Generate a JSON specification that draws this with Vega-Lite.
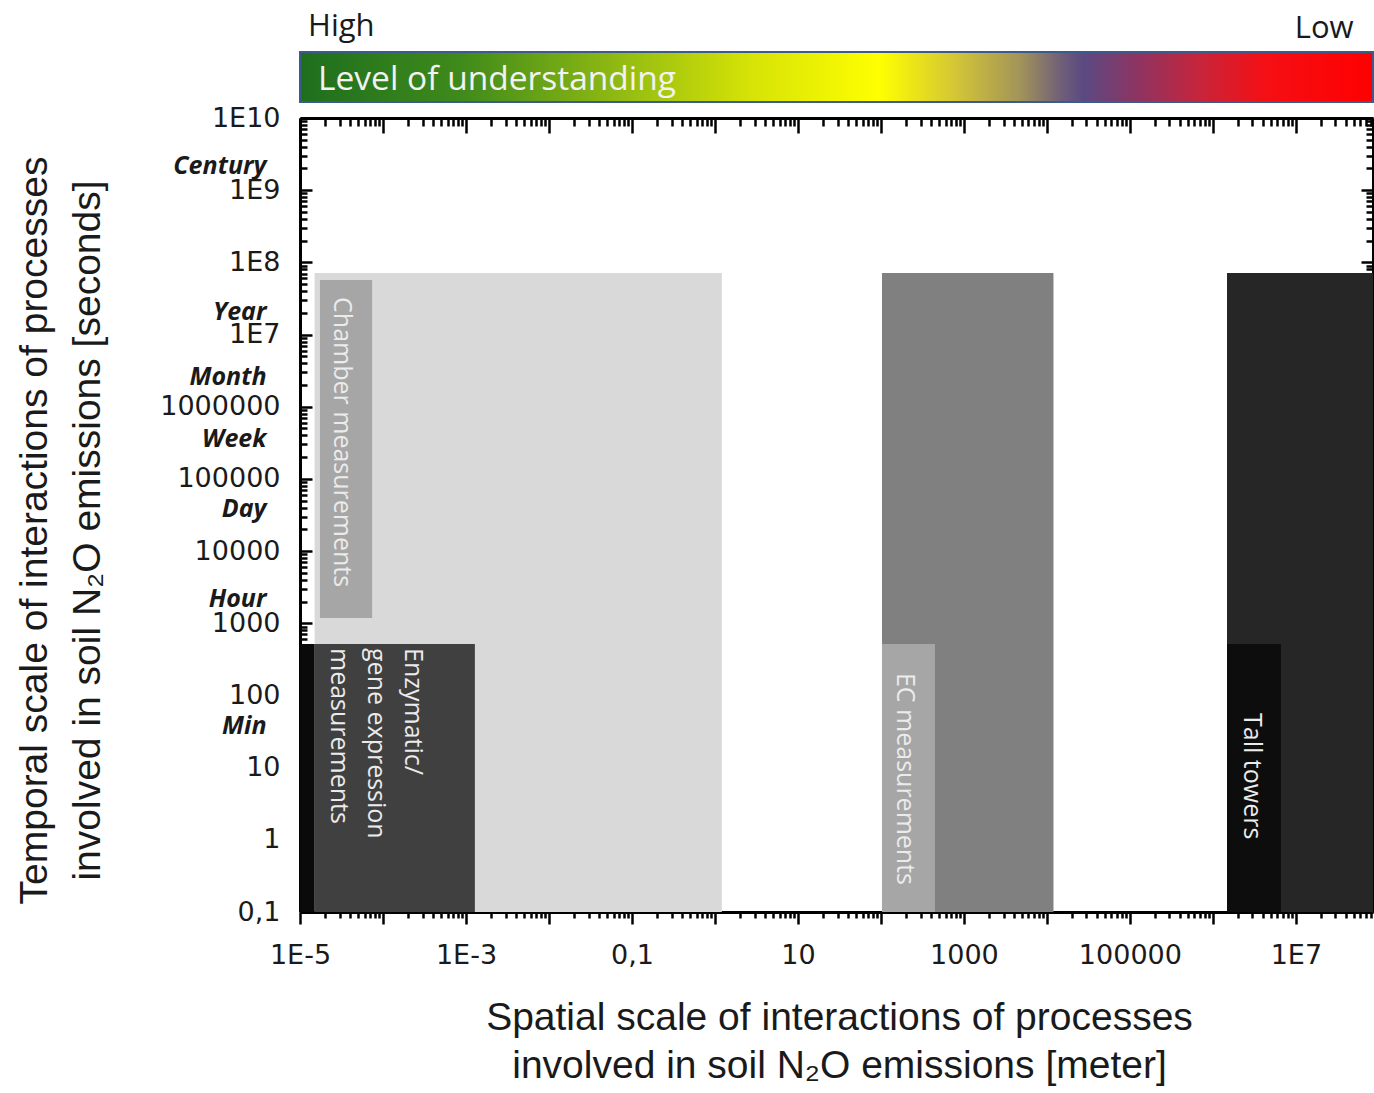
{
  "$schema": "https://vega.github.io/schema/vega-lite/v6.json",
  "width": 1073,
  "height": 794,
  "autosize": {"type": "none"},
  "padding": {"left": 300, "top": 118, "right": 1, "bottom": 181},
  "background": "white",
  "view": {"stroke": null},
  "config": {
    "axis": {
      "grid": false,
      "domainColor": "black",
      "tickColor": "black",
      "domainWidth": 3,
      "tickWidth": 2.5,
      "zindex": 1,
      "labelOverlap": false,
      "labelFlush": false,
      "labelBound": false,
      "labelColor": "#1a1a1a"
    }
  },
  "datasets": {
    "boxes": [
      {"box": "Chamber range", "x": 1.5e-5, "x2": 1.21, "t": 0.1, "t2": 7.1e7},
      {"box": "Chamber tag", "x": 1.74e-5, "x2": 7.4e-5, "t": 1180, "t2": 5.7e7},
      {"box": "Enzymatic range", "x": 1.5e-5, "x2": 1.28e-3, "t": 0.1, "t2": 516},
      {"box": "Enzymatic tag", "x": 1e-5, "x2": 1.5e-5, "t": 0.1, "t2": 516},
      {"box": "EC range", "x": 103, "x2": 1.2e4, "t": 0.1, "t2": 7.1e7},
      {"box": "EC tag", "x": 103, "x2": 448, "t": 0.1, "t2": 516},
      {"box": "Tall towers range", "x": 1.48e6, "x2": 8.5e7, "t": 0.1, "t2": 7.1e7},
      {"box": "Tall towers tag", "x": 1.48e6, "x2": 6.6e6, "t": 0.1, "t2": 516}
    ],
    "methods": [
      {"label": "Chamber measurements", "x": 3.21e-5, "t": 3.3e7},
      {"label": "Enzymatic/\ngene expression\nmeasurements", "x": 2.3e-4, "t": 454},
      {"label": "EC measurements", "x": 194, "t": 205},
      {"label": "Tall towers", "x": 2.95e6, "t": 57}
    ],
    "ends": [
      {"label": "High", "x": 1.25e-5, "t": 1.37e11},
      {"label": "Low", "x": 9.7e6, "t": 1.28e11}
    ],
    "bar": [
      {"label": "Level of understanding", "x": 1e-5, "x2": 8.5e7, "t": 1.666e10, "t2": 8.2e10, "tx": 1.65e-5, "ty": 2.44e10}
    ]
  },
  "layer": [
    {
      "data": {"name": "boxes"},
      "mark": {"type": "rect"},
      "encoding": {
        "x": {
          "field": "x", "type": "quantitative",
          "scale": {"type": "log", "domain": [1e-5, 8.5e7], "nice": false},
          "axis": {
            "orient": "bottom",
            "tickCount": 200,
            "tickSize": {"condition": {"test": "abs(log(datum.value)/LN10 - round(log(datum.value)/LN10)) < 1e-6", "value": 12}, "value": 6},
            "labelExpr": "abs(log(datum.value)/LN10 - round(log(datum.value)/LN10)) > 1e-6 || round(log(datum.value)/LN10) % 2 == 0 ? '' : round(log(datum.value)/LN10) == -1 ? '0,1' : (round(log(datum.value)/LN10) >= 0 && round(log(datum.value)/LN10) <= 5) ? '' + round(datum.value) : '1E' + round(log(datum.value)/LN10)",
            "labelFont": "DejaVu Sans",
            "labelFontSize": 27,
            "labelPadding": 18,
            "title": ["Spatial scale of interactions of processes", "involved in soil N₂O emissions [meter]"],
            "titleFont": "Liberation Sans",
            "titleFontSize": 39,
            "titleFontWeight": "normal",
            "titleColor": "#1a1a1a",
            "titleLineHeight": 48,
            "titleBaseline": "top",
            "titleAlign": "center",
            "titleX": 539,
            "titleY": 86
          }
        },
        "x2": {"field": "x2"},
        "y": {
          "field": "t", "type": "quantitative",
          "scale": {"type": "log", "domain": [0.1, 1e10], "nice": false},
          "axis": {
            "orient": "left",
            "tickCount": 200,
            "tickSize": {"condition": {"test": "abs(log(datum.value)/LN10 - round(log(datum.value)/LN10)) < 1e-6", "value": -12}, "value": -7},
            "labelExpr": "abs(log(datum.value)/LN10 - round(log(datum.value)/LN10)) > 1e-6 ? '' : round(log(datum.value)/LN10) == -1 ? '0,1' : round(log(datum.value)/LN10) <= 6 ? '' + round(datum.value) : '1E' + round(log(datum.value)/LN10)",
            "labelFont": "DejaVu Sans",
            "labelFontSize": 27,
            "labelPadding": 32,
            "title": ["Temporal scale of interactions of processes", "involved in soil N₂O emissions [seconds]"],
            "titleFont": "Liberation Sans",
            "titleFontSize": 39,
            "titleFontWeight": "normal",
            "titleColor": "#1a1a1a",
            "titleLineHeight": 53,
            "titleAngle": 270,
            "titleBaseline": "top",
            "titleAlign": "center",
            "titleX": -285,
            "titleY": 412
          }
        },
        "y2": {"field": "t2"},
        "color": {
          "field": "box", "type": "nominal", "legend": null,
          "scale": {
            "domain": ["Chamber range", "Chamber tag", "Enzymatic range", "Enzymatic tag", "EC range", "EC tag", "Tall towers range", "Tall towers tag"],
            "range": ["#d9d9d9", "#a6a6a6", "#404040", "#0a0a0a", "#808080", "#a6a6a6", "#262626", "#0d0d0d"]
          }
        }
      }
    },
    {
      "data": {"name": "methods"},
      "mark": {"type": "text", "angle": 90, "align": "left", "baseline": "middle", "font": "Open Sans", "fontSize": 25, "lineHeight": 37, "lineBreak": "\n", "color": "#ebebeb"},
      "encoding": {
        "x": {
          "field": "x", "type": "quantitative",
          "scale": {"type": "log", "domain": [1e-5, 8.5e7], "nice": false},
          "axis": {
            "orient": "top",
            "tickCount": 200,
            "tickSize": {"condition": {"test": "abs(log(datum.value)/LN10 - round(log(datum.value)/LN10)) < 1e-6", "value": -15}, "value": -8},
            "labels": false,
            "title": null
          }
        },
        "y": {
          "field": "t", "type": "quantitative",
          "scale": {"type": "log", "domain": [0.1, 1e10], "nice": false},
          "axis": {
            "orient": "right",
            "tickCount": 200,
            "tickSize": {"condition": {"test": "abs(log(datum.value)/LN10 - round(log(datum.value)/LN10)) < 1e-6", "value": -12}, "value": -7},
            "labels": false,
            "title": null
          }
        },
        "text": {"field": "label"}
      }
    },
    {
      "data": {"name": "bar"},
      "mark": {
        "type": "rect",
        "stroke": "#3d5a8c",
        "strokeWidth": 2,
        "color": {
          "gradient": "linear", "x1": 0, "y1": 0, "x2": 1, "y2": 0,
          "stops": [
            {"offset": 0, "color": "#1e6e1e"},
            {"offset": 0.15, "color": "#3f8a1b"},
            {"offset": 0.3, "color": "#92bb12"},
            {"offset": 0.42, "color": "#d6e306"},
            {"offset": 0.54, "color": "#ffff00"},
            {"offset": 0.61, "color": "#d4c635"},
            {"offset": 0.67, "color": "#a39558"},
            {"offset": 0.71, "color": "#6f5e78"},
            {"offset": 0.73, "color": "#5a4a82"},
            {"offset": 0.78, "color": "#8d3462"},
            {"offset": 0.84, "color": "#c8243a"},
            {"offset": 0.9, "color": "#f50f14"},
            {"offset": 1, "color": "#ff0000"}
          ]
        }
      },
      "encoding": {
        "x": {"field": "x", "type": "quantitative", "scale": {"type": "log", "domain": [1e-5, 8.5e7], "nice": false}, "axis": null},
        "x2": {"field": "x2"},
        "y": {
          "field": "t", "type": "quantitative",
          "scale": {"type": "log", "domain": [0.1, 1e10], "nice": false},
          "axis": {
            "orient": "left",
            "values": [2.2e9, 2.09e7, 2.63e6, 3.64e5, 3.9e4, 2.21e3, 38.5],
            "labelExpr": "datum.value > 1e9 ? 'Century' : datum.value > 1e7 ? 'Year' : datum.value > 1e6 ? 'Month' : datum.value > 1e5 ? 'Week' : datum.value > 1e4 ? 'Day' : datum.value > 1e3 ? 'Hour' : 'Min'",
            "ticks": false,
            "domain": false,
            "labelFont": "Open Sans",
            "labelFontSize": 25,
            "labelFontWeight": "bold",
            "labelFontStyle": "italic",
            "labelPadding": 34,
            "title": null
          }
        },
        "y2": {"field": "t2"}
      }
    },
    {
      "data": {"name": "bar"},
      "mark": {"type": "text", "align": "left", "baseline": "alphabetic", "font": "Open Sans", "fontSize": 33.5, "color": "#f2f2f2"},
      "encoding": {
        "x": {"field": "tx", "type": "quantitative", "scale": {"type": "log", "domain": [1e-5, 8.5e7], "nice": false}, "axis": null},
        "y": {"field": "ty", "type": "quantitative", "scale": {"type": "log", "domain": [0.1, 1e10], "nice": false}, "axis": null},
        "text": {"field": "label"}
      }
    },
    {
      "data": {"name": "ends"},
      "mark": {"type": "text", "align": "left", "baseline": "alphabetic", "font": "Open Sans", "fontSize": 31, "color": "#1a1a1a"},
      "encoding": {
        "x": {"field": "x", "type": "quantitative", "scale": {"type": "log", "domain": [1e-5, 8.5e7], "nice": false}, "axis": null},
        "y": {"field": "t", "type": "quantitative", "scale": {"type": "log", "domain": [0.1, 1e10], "nice": false}, "axis": null},
        "text": {"field": "label"}
      }
    }
  ],
  "resolve": {"axis": {"x": "independent", "y": "independent"}}
}
